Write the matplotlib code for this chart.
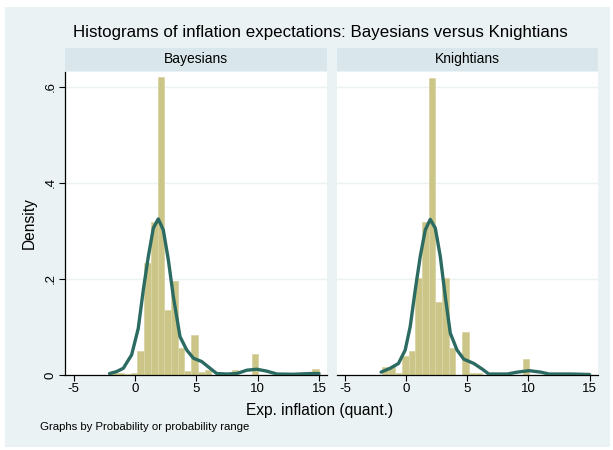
import numpy as np
import matplotlib
matplotlib.use('Agg')
import matplotlib.pyplot as plt
from matplotlib.patches import Rectangle

plt.rcParams['font.family'] = ['Liberation Sans', 'DejaVu Sans']

# ---------------- data ----------------
bin_lo, bin_hi, n_bins = -2.0, 15.0, 31

dens_bayes = [0.005, 0.005, 0.003, 0.005, 0.050, 0.233, 0.318, 0.620, 0.135, 0.196,
              0.057, 0.008, 0.083, 0.0055, 0.010, 0.0, 0.0, 0.0, 0.010, 0.0,
              0.0, 0.044, 0.0, 0.0, 0.0, 0.0, 0.0, 0.0, 0.0, 0.0, 0.012]
dens_knight = [0.016, 0.016, 0.005, 0.040, 0.050, 0.201, 0.319, 0.618, 0.151, 0.201,
               0.056, 0.0, 0.089, 0.005, 0.005, 0.0, 0.0, 0.0, 0.005, 0.0,
               0.0, 0.033, 0.0, 0.0, 0.0, 0.0, 0.005, 0.0, 0.0, 0.0, 0.0]

kde_x_bayes = [-2.07, -1.5, -0.95, -0.27, 0.27, 0.68, 1.09, 1.50, 1.90, 2.31, 2.72, 3.13,
               3.67, 4.22, 4.76, 5.44, 6.12, 6.67, 7.5, 8.3, 9.12, 9.93, 10.75, 11.57,
               12.9, 14.3, 15.0]
kde_y_bayes = [0.003, 0.007, 0.014, 0.042, 0.097, 0.177, 0.247, 0.306, 0.325, 0.302, 0.240,
               0.163, 0.080, 0.052, 0.035, 0.028, 0.014, 0.003, 0.002, 0.003, 0.010,
               0.012, 0.008, 0.002, 0.0015, 0.003, 0.003]

kde_x_knight = [-2.05, -1.31, -0.63, -0.08, 0.33, 0.74, 1.15, 1.56, 1.97, 2.38, 2.79, 3.20,
                3.61, 4.16, 4.71, 5.53, 6.21, 6.76, 8.27, 9.1, 10.05, 11.0, 11.68, 13.5, 15.0]
kde_y_knight = [0.006, 0.014, 0.024, 0.052, 0.101, 0.177, 0.247, 0.302, 0.324, 0.306, 0.247,
                0.163, 0.087, 0.052, 0.033, 0.024, 0.0125, 0.002, 0.002, 0.006, 0.009,
                0.006, 0.002, 0.002, 0.001]

panel_titles = ['Bayesians', 'Knightians']
xticks = [-5, 0, 5, 10, 15]
yticks = [0, 0.2, 0.4, 0.6]
ytick_labels = ['0', '.2', '.4', '.6']

# ---------------- styles ----------------
W, H = 613, 450
bg = '#EAF2F3'
strip_col = '#D9E6EB'
bar_col = '#CCC588'
bar_edge = '#DAD5A6'
line_col = '#2B6B62'

fig = plt.figure(figsize=(W / 100, H / 100), dpi=100)
fig.patch.set_facecolor('white')
fig.patches.append(Rectangle((5 / W, 3 / H), 605 / W, 440 / H, transform=fig.transFigure,
                             facecolor=bg, edgecolor='none', zorder=-10))

edges = np.linspace(bin_lo, bin_hi, n_bins + 1)
width = edges[1] - edges[0]

panels = [(65, 262, dens_bayes, kde_x_bayes, kde_y_bayes),
          (336.5, 261, dens_knight, kde_x_knight, kde_y_knight)]

ax_top_px, ax_bot_px = 72, 375
for i, (x0, w, dens, kx, ky) in enumerate(panels):
    ax = fig.add_axes([x0 / W, (H - ax_bot_px) / H, w / W, (ax_bot_px - ax_top_px) / H])
    ax.set_facecolor('white')
    ax.bar(edges[:-1], dens, width=width, align='edge', color=bar_col,
           edgecolor=bar_edge, linewidth=0.6, zorder=2)
    ax.plot(kx, ky, color=line_col, linewidth=2.4, solid_joinstyle='round',
            solid_capstyle='round', zorder=3)
    ax.set_xlim(-5.7, 15.65)
    ax.set_ylim(0, 0.631)
    ax.set_yticks(yticks)
    ax.yaxis.grid(True, color=bg, linewidth=1.0, zorder=0)
    ax.set_axisbelow(True)
    ax.set_xticks(xticks)
    ax.set_xticklabels([str(t) for t in xticks], fontsize=9.5)
    ax.tick_params(axis='x', direction='out', length=4, width=0.8, pad=2)
    for s in ['top', 'right']:
        ax.spines[s].set_visible(False)
    ax.spines['bottom'].set_linewidth(0.9)
    if i == 0:
        ax.set_yticklabels(ytick_labels, fontsize=9.5, rotation=90, va='center')
        ax.tick_params(axis='y', direction='out', length=4, width=0.8, pad=2)
        ax.spines['left'].set_linewidth(0.9)
        ax.set_ylabel('Density', fontsize=11.2, labelpad=6)
    else:
        ax.spines['left'].set_visible(False)
        ax.tick_params(axis='y', length=0, labelleft=False)
    # strip
    fig.patches.append(Rectangle((x0 / W, (H - 71) / H), w / W, 23 / H,
                                 transform=fig.transFigure, facecolor=strip_col,
                                 edgecolor='none', zorder=-5))
    fig.text((x0 + w / 2) / W, (H - 59.5) / H, panel_titles[i], fontsize=10,
             ha='center', va='center')

fig.text(320 / W, (H - 33) / H,
         'Histograms of inflation expectations: Bayesians versus Knightians',
         fontsize=12.2, ha='center', va='center')
fig.text(320 / W, (H - 410) / H, 'Exp. inflation (quant.)', fontsize=11.2,
         ha='center', va='center')
fig.text(40 / W, (H - 427) / H, 'Graphs by Probability or probability range',
         fontsize=8.2, ha='left', va='center')

fig.savefig('out.png', dpi=100, facecolor=fig.get_facecolor())
